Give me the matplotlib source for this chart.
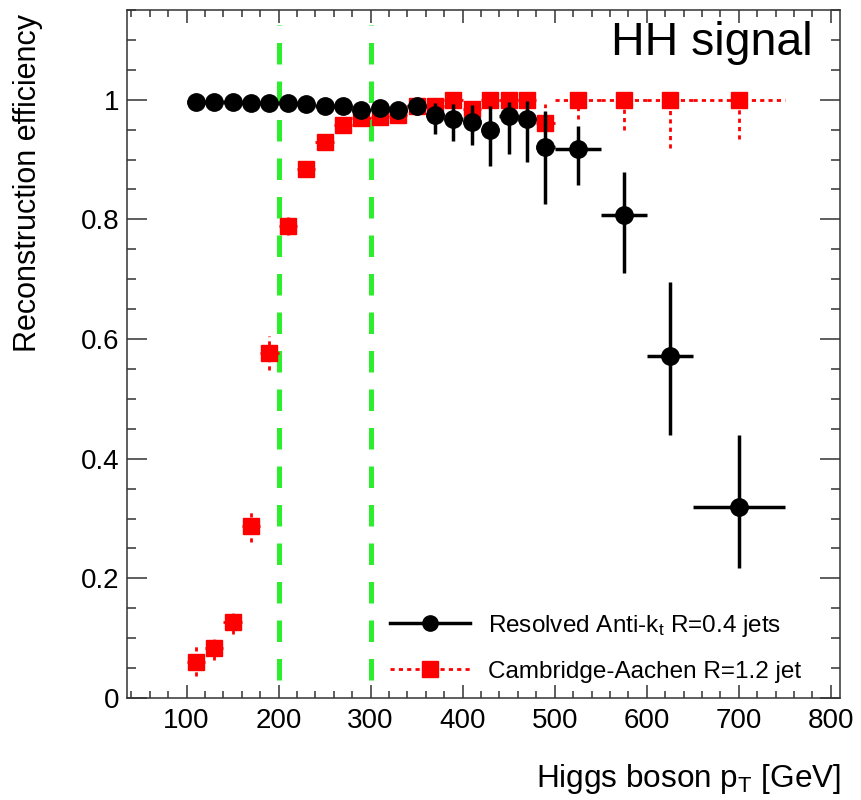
import matplotlib
matplotlib.use('Agg')
import matplotlib.pyplot as plt
from matplotlib.lines import Line2D
from matplotlib.ticker import MultipleLocator, FormatStrFormatter

plt.rcParams['font.family'] = ['Liberation Sans', 'DejaVu Sans']
plt.rcParams['mathtext.fontset'] = 'custom'
plt.rcParams['mathtext.rm'] = 'Liberation Sans'
plt.rcParams['mathtext.it'] = 'Liberation Sans:italic'

# Higgs boson pT bin centres and half widths [GeV]
pt = [110, 130, 150, 170, 190, 210, 230, 250, 270, 290, 310, 330, 350,
      370, 390, 410, 430, 450, 470, 490, 525, 575, 625, 700]
pt_halfwidth = [10] * 20 + [25, 25, 25, 50]

# resolved anti-kt R=0.4 efficiency
resolved_eff = [0.996, 0.996, 0.996, 0.995, 0.995, 0.994, 0.993, 0.989,
                0.990, 0.983, 0.986, 0.983, 0.989, 0.975, 0.968, 0.962,
                0.950, 0.972, 0.968, 0.921, 0.917, 0.807, 0.572, 0.320]
resolved_err_lo = [0.003] * 12 + [0.015, 0.033, 0.037, 0.037, 0.060, 0.062,
                                  0.072, 0.095, 0.060, 0.097, 0.132, 0.102]
resolved_err_hi = [0.003] * 12 + [0.010, 0.020, 0.025, 0.030, 0.040, 0.025,
                                  0.030, 0.060, 0.039, 0.072, 0.123, 0.120]

# Cambridge-Aachen R=1.2 efficiency
ca_eff = [0.061, 0.083, 0.127, 0.287, 0.577, 0.789, 0.884, 0.929, 0.957,
          0.969, 0.971, 0.975, 0.990, 0.990, 1.000, 0.984, 1.000, 1.000,
          1.000, 0.961, 1.000, 1.000, 1.000, 1.000]
ca_err_lo = [0.025, 0.020, 0.020, 0.027, 0.028, 0.015, 0.012, 0.010, 0.010,
             0.010, 0.010, 0.010, 0.010, 0.010, 0.010, 0.012, 0.010, 0.010,
             0.010, 0.030, 0.032, 0.050, 0.080, 0.066]
ca_err_hi = [0.028, 0.020, 0.020, 0.027, 0.028, 0.015, 0.012, 0.010, 0.010,
             0.010, 0.010, 0.010, 0.008, 0.008, 0.000, 0.012, 0.000, 0.000,
             0.000, 0.032, 0.000, 0.000, 0.000, 0.000]

# boundaries of the intermediate pT region
cut_values = [200, 300]

labels = ['Resolved Anti-k$_{\\mathrm{t}}$ R=0.4 jets',
          'Cambridge-Aachen R=1.2 jet']

fig = plt.figure(figsize=(8.62, 8.0), dpi=100)
ax = fig.add_axes([0.147, 0.1275, 0.8275, 0.86])

green = '#2cee2c'
for c in cut_values:
    ax.plot([c, c], [0.03, 1.125], color=green, lw=3.6, dashes=(4.3, 3.4),
            zorder=1)

ca = ax.errorbar(pt, ca_eff, xerr=pt_halfwidth, yerr=[ca_err_lo, ca_err_hi],
                 fmt='s', color='#ff0000', ms=11.5, elinewidth=2, capsize=0,
                 zorder=2)
for coll in ca[2]:
    coll.set_linestyle((0, (1.5, 1.5)))

ax.errorbar(pt, resolved_eff, xerr=pt_halfwidth,
            yerr=[resolved_err_lo, resolved_err_hi], fmt='o', color='black',
            ms=12.5, elinewidth=2.5, capsize=0, zorder=3)

ax.set_xlim(35, 810)
ax.set_ylim(0, 1.15)

ax.xaxis.set_major_locator(MultipleLocator(100))
ax.xaxis.set_minor_locator(MultipleLocator(20))
ax.yaxis.set_major_locator(MultipleLocator(0.2))
ax.yaxis.set_minor_locator(MultipleLocator(0.05))
ax.yaxis.set_major_formatter(FormatStrFormatter('%g'))

ax.tick_params(axis='both', which='both', direction='in', top=True,
               right=True, color='#333333', width=1.1, labelsize=20)
ax.tick_params(axis='x', which='major', length=9.5, pad=7)
ax.tick_params(axis='x', which='minor', length=5)
ax.tick_params(axis='y', which='major', length=14.5, pad=5)
ax.tick_params(axis='y', which='minor', length=6.5)
for s in ax.spines.values():
    s.set_linewidth(1.1)
    s.set_color('#333333')

ax.set_ylabel('Reconstruction efficiency', fontsize=22)
ax.yaxis.set_label_coords(-0.118, 0.749)
fig.text(841 / 862, 1 - 787 / 800, 'Higgs boson p$_{\\mathrm{T}}$ [GeV]',
         fontsize=22.7, ha='right', va='baseline')

ax.text(0.962, 0.9346, 'HH signal', transform=ax.transAxes, fontsize=33.5,
        ha='right', va='baseline')

handles = [Line2D([], [], color='black', lw=2.5, marker='o', ms=11),
           Line2D([], [], color='#ff0000', lw=2, ls=(0, (1.5, 1.5)),
                  marker='s', ms=11)]
ax.legend(handles, labels, loc='lower left', bbox_to_anchor=(0.369, 0.022),
          frameon=False, fontsize=17.5, handlelength=3.3, handletextpad=0.74,
          borderpad=0, borderaxespad=0, labelspacing=0.9)

fig.savefig('out.png', dpi=100)
